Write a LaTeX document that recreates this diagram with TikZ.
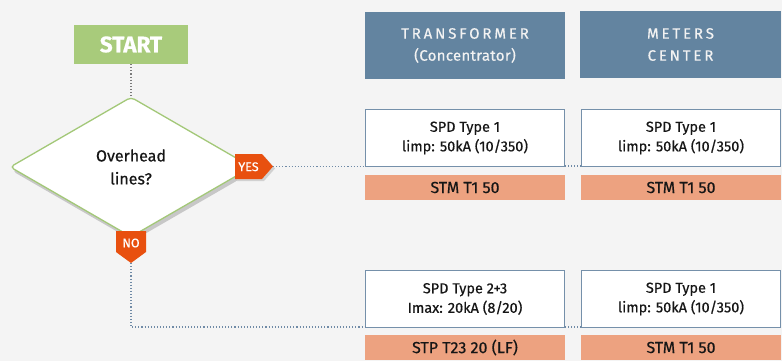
\documentclass[tikz,border=0pt]{standalone}
\usepackage{fontspec}
\setmainfont{Fira Sans}[FakeBold=0.5]
\usetikzlibrary{shapes.geometric,shadows}
\definecolor{bg}{HTML}{F4F4F4}
\definecolor{startgreen}{HTML}{A8CB7B}
\definecolor{diagreen}{HTML}{A3C878}
\definecolor{tagorange}{HTML}{E8500F}
\definecolor{headblue}{HTML}{6384A0}
\definecolor{boxblue}{HTML}{7590AA}
\definecolor{salmon}{HTML}{EDA280}
\definecolor{dotgray}{HTML}{7A7A7A}
\definecolor{dotblue}{HTML}{6F8AA6}
\definecolor{txt}{HTML}{161616}
\tikzset{
  header/.style={fill=headblue, text=white!95!black, minimum width=200, minimum height=67, inner sep=0, align=center,
    font=\fontsize{15}{22}\selectfont},
  spdbox/.style={draw=boxblue, line width=1.4, fill=white, text=txt, minimum width=198.5, minimum height=56.5, inner sep=0, align=center,
    font=\fontsize{14.5}{19.5}\selectfont},
  stmbar/.style={fill=salmon, text=txt, minimum width=200, minimum height=25, inner sep=0,
    font=\fontsize{16}{18}\selectfont},
  tagtext/.style={text=white, inner sep=0, font=\fontsize{12.5}{14}\selectfont},
  dotline/.style={line width=1.1, dash pattern=on 1.1pt off 2pt},
}
\begin{document}
\begin{tikzpicture}[x=1pt,y=-1pt]
\useasboundingbox[fill=bg] (0,0) rectangle (782,361);

% START
\node[fill=startgreen, text=white, minimum width=114, minimum height=39, inner sep=0,
  font=\fontsize{22.5}{24}\selectfont\bfseries] (start) at (131,44.5) {START};

% decision diamond
\node[diamond, draw=diagreen, line width=1.3, fill=white, rounded corners=4,
  minimum width=242, minimum height=140, inner sep=0, align=center, text=txt,
  font=\fontsize{16}{23}\selectfont,
  drop shadow={shadow xshift=2pt, shadow yshift=-4pt, fill=black!22, opacity=1}] (dec) at (131,167) {Overhead\\lines?};

\draw[dotline, dotgray] (start.south) -- (dec.north);

% YES tag
\fill[black!18] (237,156) -- (264,156) -- (275,168.5) -- (264,181) -- (237,181) -- cycle;
\fill[tagorange] (235,154) -- (262,154) -- (273,166.5) -- (262,179) -- (235,179) -- cycle;
\coordinate (yestip) at (273,166.5);
\node[tagtext] (yes) at (248.5,166.8) {YES};

% NO tag
\fill[tagorange] (116,231) -- (146,231) -- (146,252) -- (131,263) -- (116,252) -- cycle;
\coordinate (notip) at (131,263);
\node[tagtext] (no) at (131,243) {NO};

% headers
\node[header] (h1) at (465,45.5) {{\addfontfeature{LetterSpace=19}TRANSFORMER}\\{\addfontfeature{LetterSpace=2}(Concentrator)}};
\node[header, minimum width=201] (h2) at (680.5,44.5) {\addfontfeature{LetterSpace=19}METERS\\\addfontfeature{LetterSpace=19}CENTER};

% row 1
\node[spdbox] (s1) at (465,138) {SPD Type 1\\limp: 50kA (10/350)};
\node[spdbox] (s2) at (681,138) {SPD Type 1\\limp: 50kA (10/350)};
\node[stmbar] (m1) at (465,187.5) {STM T1 50};
\node[stmbar] (m2) at (681,187.5) {STM T1 50};

% row 2
\node[spdbox] (s3) at (465,299) {SPD Type 2+3\\Imax: 20kA (8/20)};
\node[spdbox] (s4) at (681,299) {SPD Type 1\\limp: 50kA (10/350)};
\node[stmbar] (m3) at (465,347.5) {STP T23 20 (LF)};
\node[stmbar] (m4) at (681,347.5) {STM T1 50};

% connectors
\draw[dotline, dotblue] (yestip) -- (yestip -| s1.west);
\draw[dotline, dotblue] ([yshift=1pt]s1.south east) -- ([yshift=1pt]s2.south west);
\draw[dotline, dotblue] (notip) |- ([yshift=1pt]s3.south west);
\draw[dotline, dotblue] ([yshift=1pt]s3.south east) -- ([yshift=1pt]s4.south west);
\end{tikzpicture}
\end{document}
